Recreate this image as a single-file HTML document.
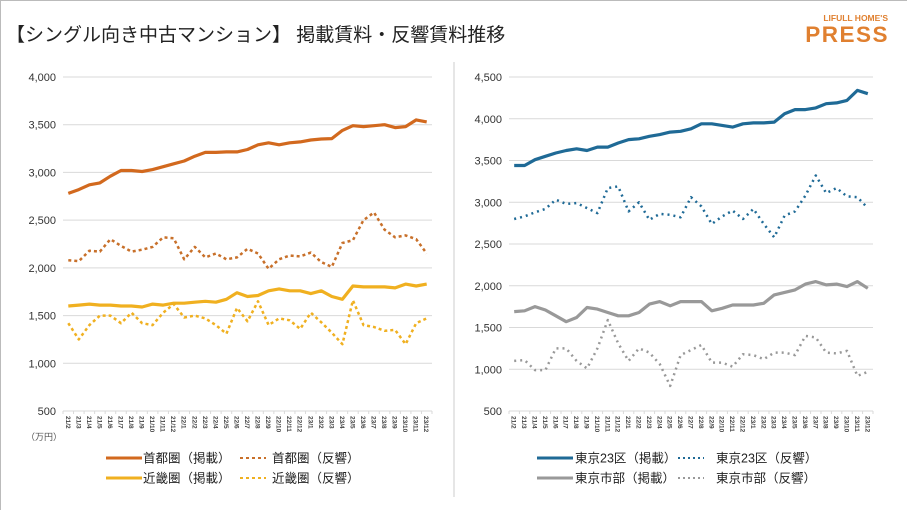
<!DOCTYPE html>
<html><head><meta charset="utf-8"><style>
html,body{margin:0;padding:0;background:#fff;}
svg{display:block;font-family:"Liberation Sans","Noto Sans CJK JP",sans-serif;}
</style></head><body>
<svg id="c" width="907" height="510" viewBox="0 0 907 510">
<rect x="0" y="0" width="907" height="510" fill="#fff"/>
<line x1="0" y1="0.5" x2="907" y2="0.5" stroke="#bbb"/>
<line x1="0.5" y1="0" x2="0.5" y2="510" stroke="#bbb"/>
<text x="6" y="41" font-size="19" fill="#222">【シングル向き中古マンション】 掲載賃料・反響賃料推移</text>
<text x="888" y="21" font-size="8.5" font-weight="bold" fill="#e08030" text-anchor="end">LIFULL HOME'S</text>
<text x="889" y="42" font-size="22.5" font-weight="bold" fill="#e08030" text-anchor="end" letter-spacing="1.5">PRESS</text>
<line x1="454" y1="62" x2="454" y2="497" stroke="#ccc"/>
<g id="L"></g>
<g id="R"></g>
</svg>
<script>
const categories=["21/2","21/3","21/4","21/5","21/6","21/7","21/8","21/9","21/10","21/11","21/12","22/1","22/2","22/3","22/4","22/5","22/6","22/7","22/8","22/9","22/10","22/11","22/12","23/1","23/2","23/3","23/4","23/5","23/6","23/7","23/8","23/9","23/10","23/11","23/12"];
const leftTicks=[500,1000,1500,2000,2500,3000,3500,4000];
const rightTicks=[500,1000,1500,2000,2500,3000,3500,4000,4500];
const shutokenListing=[2780,2820,2870,2890,2960,3020,3020,3010,3030,3060,3090,3120,3170,3210,3210,3215,3215,3240,3290,3310,3290,3310,3320,3340,3350,3355,3440,3490,3480,3490,3500,3470,3480,3550,3530];
const shutokenResponse=[2080,2070,2180,2170,2300,2230,2170,2190,2220,2320,2310,2090,2220,2110,2150,2090,2110,2200,2150,1990,2090,2130,2120,2160,2060,2010,2260,2290,2500,2580,2400,2320,2340,2300,2150];
const kinkiListing=[1600,1610,1620,1610,1610,1600,1600,1590,1620,1610,1630,1630,1640,1650,1640,1670,1740,1700,1710,1760,1780,1760,1760,1730,1760,1700,1670,1810,1800,1800,1800,1790,1830,1810,1830];
const kinkiResponse=[1420,1250,1400,1500,1500,1420,1530,1420,1400,1530,1620,1480,1500,1470,1400,1310,1580,1440,1650,1400,1470,1450,1360,1530,1430,1320,1200,1660,1400,1380,1340,1350,1200,1420,1470];
const tokyo23Listing=[3440,3440,3510,3550,3590,3620,3640,3620,3660,3660,3710,3750,3760,3790,3810,3840,3850,3880,3940,3940,3920,3900,3940,3950,3950,3960,4060,4110,4110,4130,4180,4190,4220,4340,4300];
const tokyo23Response=[2800,2830,2880,2920,3030,2980,2990,2930,2870,3170,3190,2890,3000,2790,2860,2850,2820,3060,2950,2740,2830,2900,2800,2920,2740,2580,2840,2890,3080,3320,3110,3170,3070,3060,2930];
const tokyoCityListing=[1690,1700,1750,1710,1640,1570,1620,1740,1720,1680,1640,1640,1680,1780,1810,1760,1810,1810,1810,1700,1730,1770,1770,1770,1790,1890,1920,1950,2020,2050,2010,2020,1990,2050,1970];
const tokyoCityResponse=[1100,1110,990,990,1250,1250,1100,1010,1250,1590,1310,1100,1250,1200,1060,800,1170,1230,1290,1080,1080,1030,1180,1170,1120,1200,1200,1170,1400,1380,1200,1190,1220,920,970];

const NS="http://www.w3.org/2000/svg";
function mk(p,tag,a){const e=document.createElementNS(NS,tag);for(const k in a)e.setAttribute(k,a[k]);p.appendChild(e);return e;}

function chart(g,cfg){
  const x0=cfg.x0,x1=cfg.x1,yTop=77,yBot=411,min=cfg.ticks[0],max=cfg.ticks[cfg.ticks.length-1];
  const n=categories.length,band=(x1-x0)/n;
  const X=i=>x0+band*(i+0.5);
  const Y=v=>yBot-(v-min)/(max-min)*(yBot-yTop);
  cfg.ticks.forEach(t=>{
    const l=mk(g,'line',{x1:x0,x2:x1,y1:Y(t),y2:Y(t),stroke:'#d9d9d9','stroke-width':1});
    
    
    const tx=mk(g,'text',{x:x0-7,y:Y(t)+4,'font-size':11,fill:'#333','text-anchor':'end'});
    tx.textContent=t.toLocaleString('en-US');
    
    
  });
  for(let i=0;i<=n;i++){mk(g,'line',{x1:x0+band*i,x2:x0+band*i,y1:yBot,y2:yBot+3,stroke:'#d9d9d9'});}
  categories.forEach((c,i)=>{
    const tx=mk(g,'text',{x:0,y:0,'font-size':6.5,'font-weight':'bold',fill:'#444',transform:`translate(${X(i)-2.5},${yBot+5}) rotate(90)`});
    tx.textContent=c;
    
    
  });
  cfg.series.forEach(s=>{
    const p=mk(g,'polyline',{points:s.data.map((v,i)=>X(i).toFixed(1)+','+Y(v).toFixed(1)).join(' '),fill:'none',stroke:s.color,'stroke-width':s.dash?2.5:3.2,'stroke-linejoin':'round'});
    if(s.dash)p.setAttribute('stroke-dasharray',s.dash);
    
    
  });
  cfg.legend.forEach(l=>{
    const ln=mk(g,'line',{x1:l.x,x2:l.x+(l.dash?26:36),y1:l.y,y2:l.y,stroke:l.color,'stroke-width':l.dash?2:3});
    if(l.dash)ln.setAttribute('stroke-dasharray',l.dash);
    
    
    const t=mk(g,'text',{x:l.tx,y:l.y+4.5,'font-size':12.5,fill:'#222'});
    t.textContent=l.label;
    
    
  });
}
const O='#d2691e',O2='#c8702a',Yl='#f0b020',B='#1f6a96',G='#999';
chart(document.getElementById('L'),{x0:63,x1:432,ticks:leftTicks,series:[
 {name:'shutoken-response-line',data:shutokenResponse,color:O2,dash:'3,3'},
 {name:'kinki-response-line',data:kinkiResponse,color:Yl,dash:'3,3'},
 {name:'kinki-listing-line',data:kinkiListing,color:Yl},
 {name:'shutoken-listing-line',data:shutokenListing,color:O}],
 legend:[{x:106,tx:143,y:458,color:O,label:'首都圏（掲載）'},{x:240,tx:272,y:458,color:O2,dash:'3,3',label:'首都圏（反響）'},
 {x:106,tx:143,y:478,color:Yl,label:'近畿圏（掲載）'},{x:240,tx:272,y:478,color:Yl,dash:'3,3',label:'近畿圏（反響）'}]});
chart(document.getElementById('R'),{x0:509,x1:873,ticks:rightTicks,series:[
 {name:'tokyo23-response-line',data:tokyo23Response,color:B,dash:'2,4'},
 {name:'tokyocity-response-line',data:tokyoCityResponse,color:G,dash:'2,4'},
 {name:'tokyocity-listing-line',data:tokyoCityListing,color:G},
 {name:'tokyo23-listing-line',data:tokyo23Listing,color:B}],
 legend:[{x:537,tx:575,y:458,color:B,label:'東京23区（掲載）'},{x:678,tx:716,y:458,color:B,dash:'2,3',label:'東京23区（反響）'},
 {x:537,tx:575,y:478,color:G,label:'東京市部（掲載）'},{x:678,tx:716,y:478,color:G,dash:'2,3',label:'東京市部（反響）'}]});
const u=mk(document.getElementById('L'),'text',{x:26,y:440,'font-size':9,fill:'#555'});
u.textContent='（万円）';


</script>
</body></html>
